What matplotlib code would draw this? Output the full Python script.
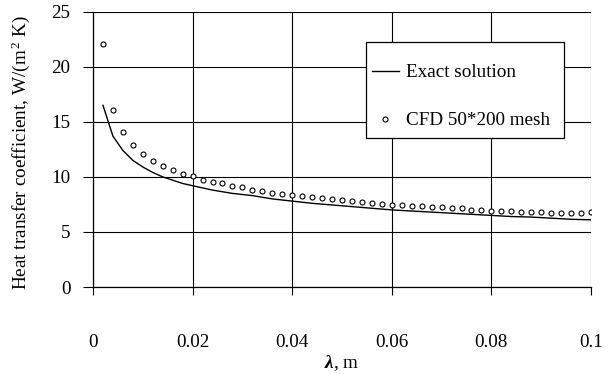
import matplotlib
matplotlib.use("Agg")
import matplotlib.pyplot as plt
from matplotlib.patches import Rectangle

plt.rcParams['font.family'] = ['Liberation Serif', 'DejaVu Serif']
plt.rcParams['mathtext.fontset'] = 'custom'
plt.rcParams['mathtext.rm'] = 'Liberation Serif'
plt.rcParams['mathtext.it'] = 'Liberation Serif:italic'
plt.rcParams['mathtext.bf'] = 'Liberation Serif:bold:italic'

# Exact solution
exact_x = [0.002, 0.004, 0.006, 0.008, 0.010, 0.012, 0.014, 0.016, 0.018, 0.020,
           0.024, 0.028, 0.032, 0.036, 0.040, 0.044, 0.048, 0.052, 0.056, 0.060,
           0.064, 0.068, 0.072, 0.076, 0.080, 0.084, 0.088, 0.092, 0.096, 0.100]
exact_h = [16.5, 13.7, 12.4, 11.5, 10.9, 10.4, 10.0, 9.7, 9.4, 9.2,
           8.8, 8.5, 8.3, 8.0, 7.8, 7.6, 7.45, 7.3, 7.15, 7.0,
           6.9, 6.8, 6.7, 6.6, 6.5, 6.4, 6.35, 6.25, 6.15, 6.1]

# CFD 50*200 mesh
cfd_x = [0.002, 0.004, 0.006, 0.008, 0.010, 0.012, 0.014, 0.016, 0.018, 0.020,
         0.022, 0.024, 0.026, 0.028, 0.030, 0.032, 0.034, 0.036, 0.038, 0.040,
         0.042, 0.044, 0.046, 0.048, 0.050, 0.052, 0.054, 0.056, 0.058, 0.060,
         0.062, 0.064, 0.066, 0.068, 0.070, 0.072, 0.074, 0.076, 0.078, 0.080,
         0.082, 0.084, 0.086, 0.088, 0.090, 0.092, 0.094, 0.096, 0.098, 0.100]
cfd_h = [22.1, 16.1, 14.1, 12.9, 12.05, 11.45, 10.97, 10.67, 10.25, 10.07,
         9.76, 9.58, 9.40, 9.19, 9.04, 8.83, 8.70, 8.52, 8.43, 8.34,
         8.25, 8.13, 8.07, 7.95, 7.92, 7.80, 7.68, 7.65, 7.56, 7.46,
         7.44, 7.34, 7.32, 7.24, 7.23, 7.17, 7.16, 7.03, 7.02, 6.94,
         6.93, 6.86, 6.85, 6.84, 6.77, 6.76, 6.76, 6.76, 6.76, 6.77]

x_ticks = [0, 0.02, 0.04, 0.06, 0.08, 0.1]
x_ticklabels = ['0', '0.02', '0.04', '0.06', '0.08', '0.1']
y_ticks = [0, 5, 10, 15, 20, 25]

FS = 13.75

fig = plt.figure(figsize=(6.10, 3.74), dpi=100)
ax = fig.add_axes([93/610, 1 - 287/374, (591-93)/610, (287-11.7)/374])

ax.plot(exact_x, exact_h, color='black', lw=1.0, label='Exact solution', zorder=3)
ax.plot(cfd_x, cfd_h, linestyle='none', marker='o', markersize=3.6,
        markerfacecolor='white', markeredgecolor='black', markeredgewidth=0.8,
        label='CFD 50*200 mesh', zorder=3)

ax.set_xlim(0, 0.1)
ax.set_ylim(0, 25)
ax.set_xticks(x_ticks)
ax.set_xticklabels(x_ticklabels)
ax.set_yticks(y_ticks)
ax.grid(True, color='black', lw=0.8)
ax.set_axisbelow(True)
for s in ['top', 'right']:
    ax.spines[s].set_visible(False)
ax.spines['left'].set_linewidth(0.9)
ax.spines['bottom'].set_linewidth(0.9)

ax.tick_params(axis='y', direction='out', length=7.2, width=0.8, pad=9, labelsize=FS)
ax.tick_params(axis='x', direction='out', length=5.8, width=0.8, pad=28, labelsize=FS)

ax.set_ylabel(r'Heat transfer coefficient, W/(m$^{\,2}$ K)', fontsize=FS)
ax.yaxis.set_label_coords(-0.122, 0.487)
ax.set_xlabel(r'$\mathbf{\lambda}$, m', fontsize=FS, labelpad=1.5)

# legend frame
rect = Rectangle((0.548, 0.542), 0.946 - 0.548, 0.891 - 0.542, transform=ax.transAxes,
                 facecolor='white', edgecolor='black', lw=0.9, zorder=4)
ax.add_patch(rect)
leg = ax.legend(loc='upper left', bbox_to_anchor=(0.56, 0.81), frameon=False,
                fontsize=FS, handlelength=1.4, handletextpad=0.4,
                labelspacing=1.6, borderpad=0, borderaxespad=0)
leg.set_zorder(5)

fig.savefig('out.png', dpi=100)
